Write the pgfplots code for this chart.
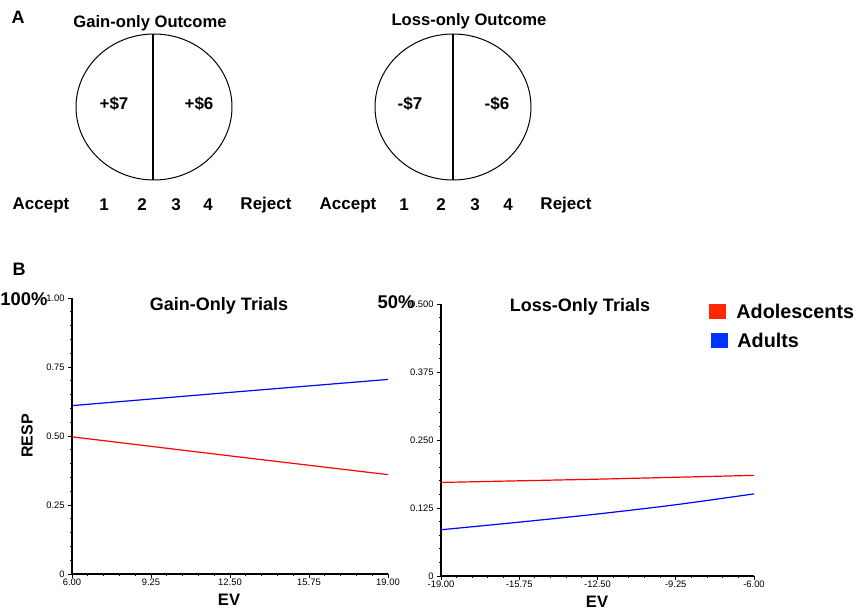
\documentclass[border=0pt]{standalone}
\usepackage{pgfplots}
\pgfplotsset{compat=1.18}
\usepackage{fontspec}
\setmainfont{Liberation Sans}
\definecolor{lgred}{RGB}{255,40,0}
\definecolor{lgblue}{RGB}{0,51,255}
\pgfplotsset{
  refaxis/.style={
    scale only axis,
    axis lines*=left,
    axis line style={line width=0.9pt},
    tick align=outside,
    major tick length=2pt,
    minor tick length=1pt,
    tick style={black, line width=0.5pt},
    minor x tick num=4,
    minor y tick num=4,
    ticklabel style={font=\fontsize{4.7}{5.5}\selectfont},
    xticklabel style={inner sep=0.5pt},
    yticklabel style={inner sep=1.5pt},
    clip=false,
  }
}
\begin{document}
\begin{tikzpicture}[x=0.5pt,y=-0.5pt]
\useasboundingbox (0,0) rectangle (856,609);
% ---------- Panel A ----------
\node[font=\fontsize{9}{10}\selectfont\bfseries] at (18,17) {A};
\node[font=\fontsize{8.3}{10}\selectfont\bfseries] at (150,23) {Gain-only Outcome};
\node[font=\fontsize{8.3}{10}\selectfont\bfseries] at (469,21) {Loss-only Outcome};
\draw[line width=0.5pt] (154,107) ellipse [x radius=39pt, y radius=36.5pt];
\draw[line width=0.5pt] (453,107) ellipse [x radius=39pt, y radius=36.5pt];
\draw[line width=1pt] (153,34) -- (153,180);
\draw[line width=1pt] (453,34) -- (453,180);
\begin{scope}[font=\fontsize{8.5}{10}\selectfont\bfseries]
\node at (114,104) {+\$7};
\node at (199,104) {+\$6};
\node at (410,104) {-\$7};
\node at (497,104) {-\$6};
\node at (41,205) {Accept};
\node at (104,205) {1};
\node at (142,205) {2};
\node at (176,205) {3};
\node at (208,205) {4};
\node at (266,205) {Reject};
\node at (348,205) {Accept};
\node at (404,205) {1};
\node at (441,205) {2};
\node at (475,205) {3};
\node at (508,205) {4};
\node at (566,205) {Reject};
\end{scope}
\node[font=\fontsize{9}{10}\selectfont\bfseries] at (19,269) {B};
% ---------- Panel B, left ----------
\coordinate (g) at (72,574);
\begin{axis}[refaxis,
  at={(g)}, anchor=south west,
  width=158pt, height=138pt,
  xmin=6, xmax=19, ymin=0, ymax=1,
  xtick={6,9.25,12.5,15.75,19},
  xticklabels={6.00,9.25,12.50,15.75,19.00},
  ytick={0,0.25,0.5,0.75,1},
  yticklabels={0,0.25,0.50,0.75,1.00},
]
\addplot[red, line width=0.6pt] coordinates {(6,0.497) (12.5,0.428) (19,0.360)};
\addplot[blue, line width=0.6pt] coordinates {(6,0.610) (12.5,0.658) (19,0.705)};
\end{axis}
% ---------- Panel B, right ----------
\coordinate (l) at (441,576);
\begin{axis}[refaxis,
  at={(l)}, anchor=south west,
  width=156.5pt, height=136pt,
  xmin=-19, xmax=-6, ymin=0, ymax=0.5,
  xtick={-19,-15.75,-12.5,-9.25,-6},
  xticklabels={-19.00,-15.75,-12.50,-9.25,-6.00},
  ytick={0,0.125,0.25,0.375,0.5},
  yticklabels={0,0.125,0.250,0.375,0.500},
]
\addplot[red, line width=0.6pt] coordinates {(-19,0.172) (-12.5,0.178) (-6,0.185)};
\addplot[blue, line width=0.6pt, smooth] coordinates {(-19,0.085) (-15.75,0.099) (-12.5,0.114) (-9.25,0.131) (-6,0.151)};
\end{axis}
% ---------- labels ----------
\node[font=\fontsize{9.2}{11}\selectfont\bfseries] at (24,299) {100\%};
\node[font=\fontsize{9.2}{11}\selectfont\bfseries] at (396,302) {50\%};
\node[font=\fontsize{9}{11}\selectfont\bfseries] at (219,306) {Gain-Only Trials};
\node[font=\fontsize{9}{11}\selectfont\bfseries] at (580,307) {Loss-Only Trials};
\node[font=\fontsize{8}{10}\selectfont\bfseries, rotate=90] at (27,436) {RESP};
\node[font=\fontsize{8.3}{10}\selectfont\bfseries] at (229,600) {EV};
\node[font=\fontsize{8.3}{10}\selectfont\bfseries] at (597,602) {EV};
% legend
\fill[lgred] (709,304) rectangle (726,319);
\fill[lgblue] (711,333) rectangle (728,348);
\node[font=\fontsize{9.9}{12}\selectfont\bfseries, anchor=west, inner sep=0pt] at (736,311) {Adolescents};
\node[font=\fontsize{9.9}{12}\selectfont\bfseries, anchor=west, inner sep=0pt] at (737,340) {Adults};
\end{tikzpicture}
\end{document}
